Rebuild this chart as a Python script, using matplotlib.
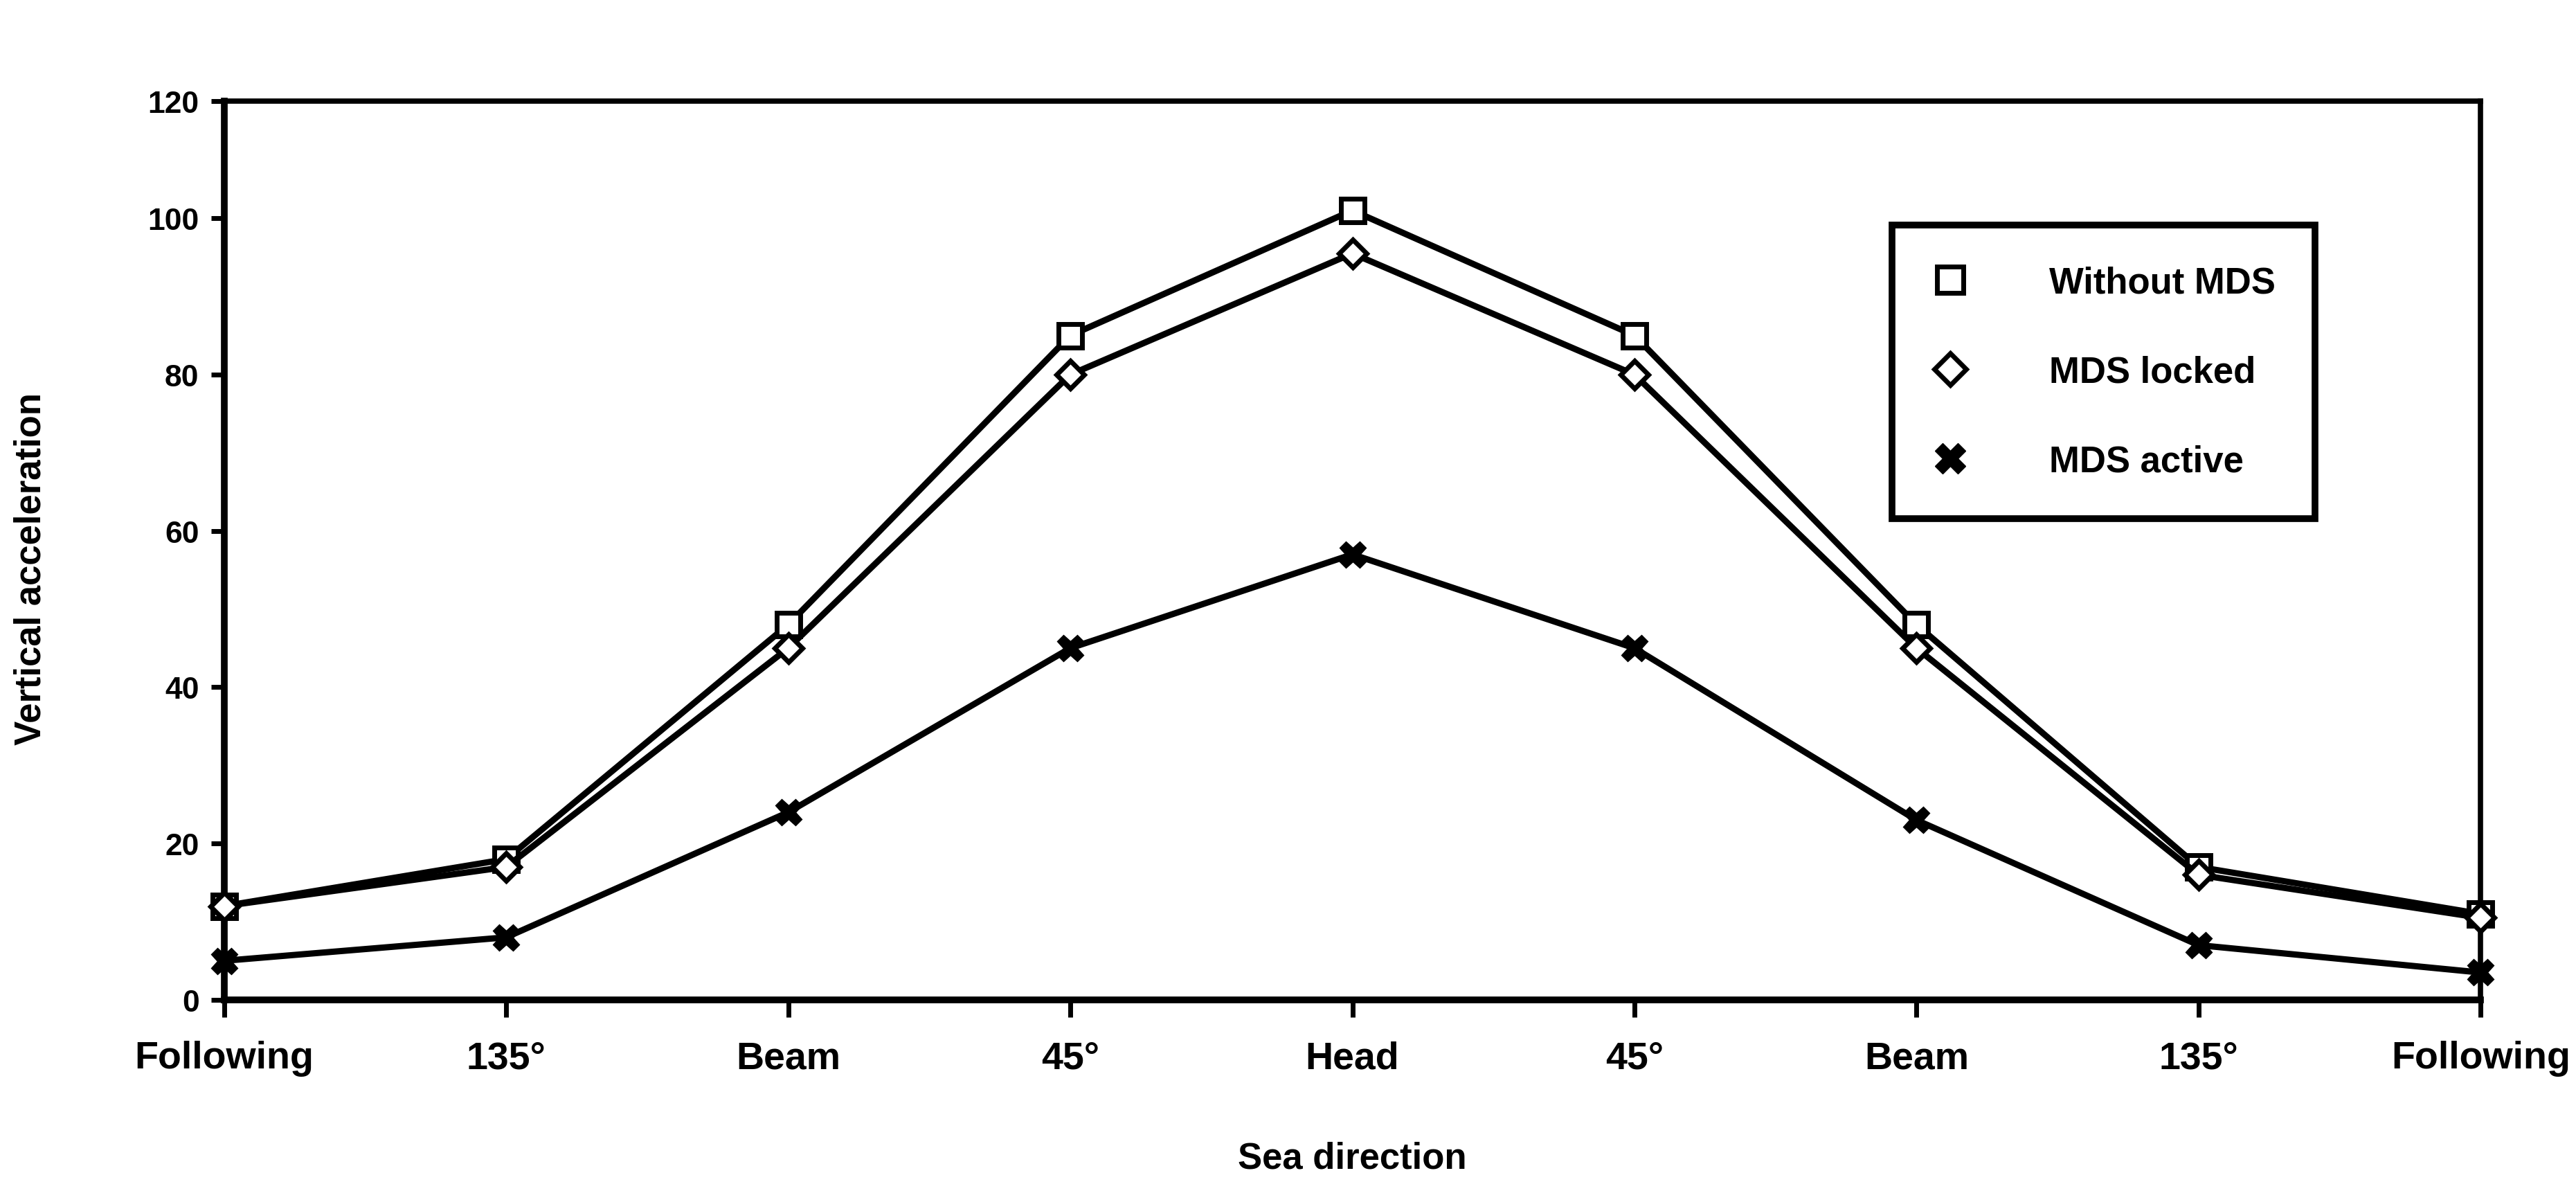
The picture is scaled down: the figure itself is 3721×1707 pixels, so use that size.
import matplotlib
matplotlib.use("Agg")
import matplotlib.pyplot as plt

# Sea directions around the compass (following -> head -> following)
directions = ["Following", "135°", "Beam", "45°", "Head", "45°", "Beam", "135°", "Following"]

# Vertical acceleration for each configuration
without_mds = [12, 18, 48, 85, 101, 85, 48, 17, 11]
mds_locked = [12, 17, 45, 80, 95.5, 80, 45, 16, 10.5]
mds_active = [5, 8, 24, 45, 57, 45, 23, 7, 3.5]

y_tick_values = [0, 20, 40, 60, 80, 100]
y_tick_labels = ["0", "20", "40", "60", "80", "100"]
y_top_label = "120"

plt.rcParams["font.family"] = ["Liberation Sans", "DejaVu Sans"]
plt.rcParams["font.weight"] = "bold"

fig = plt.figure(figsize=(37.21, 17.08), dpi=100)
ax = fig.add_axes([0.087, 0.154, 0.876, 0.760])

x = list(range(len(directions)))
lw = 6.5
ms = 28

ax.plot(x, without_mds, color="black", lw=lw, marker="s", ms=ms * 0.85,
        mfc="white", mec="black", mew=5, zorder=3, clip_on=False,
        label="Without MDS")
ax.plot(x, mds_locked, color="black", lw=lw, marker="D", ms=ms * 0.72,
        mfc="white", mec="black", mew=5, zorder=4, clip_on=False,
        label="MDS locked")
ax.plot(x, mds_active, color="black", lw=lw, marker="X", ms=ms,
        mfc="black", mec="black", mew=1, zorder=5, clip_on=False,
        label="MDS active")

ax.set_xlim(0, len(directions) - 1)
ax.set_ylim(0, 115)

ax.set_xticks(x)
ax.set_xticklabels(directions, fontsize=40, fontweight="bold")
ax.set_yticks(y_tick_values + [115])
ax.set_yticklabels(y_tick_labels + [y_top_label], fontsize=32, fontweight="bold")

ax.tick_params(axis="x", direction="out", length=18, width=5, pad=24)
ax.tick_params(axis="y", direction="out", length=14, width=5, pad=12)

for side in ["left", "bottom"]:
    ax.spines[side].set_linewidth(7)
for side in ["top", "right"]:
    ax.spines[side].set_linewidth(5.5)

ax.set_xlabel("Sea direction", fontsize=38, fontweight="bold")
ax.xaxis.set_label_coords(0.5, -0.157)
ax.set_ylabel("Vertical acceleration", fontsize=38, fontweight="bold")
ax.yaxis.set_label_coords(-0.078, 0.48)

leg = ax.legend(loc="upper left", bbox_to_anchor=(0.739, 0.862),
                fontsize=38, frameon=True, fancybox=False,
                handlelength=1.0, handletextpad=2.2, labelspacing=1.5,
                borderpad=1.1, borderaxespad=0, markerscale=1.15)
for h in leg.legend_handles:
    h.set_linestyle("none")
leg.get_frame().set_edgecolor("black")
leg.get_frame().set_linewidth(7)
leg.get_frame().set_alpha(1)
for t in leg.get_texts():
    t.set_fontweight("bold")

fig.savefig("out.png", dpi=100, facecolor="white")
